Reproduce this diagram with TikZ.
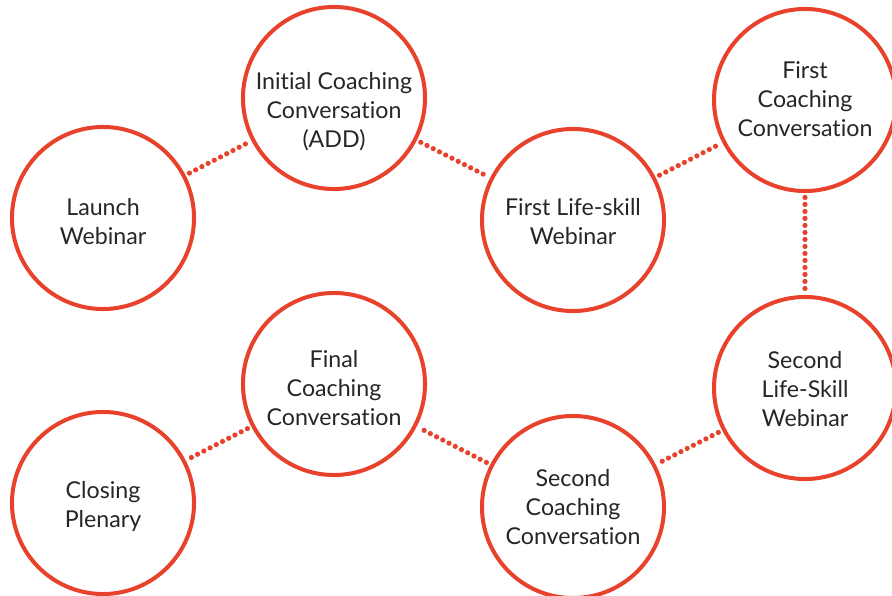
\documentclass[tikz,border=0pt]{standalone}
\usepackage{fontspec}
\setmainfont{Lato}[Ligatures={NoCommon,NoDiscretionary}]
\usepackage{tikz}
\usetikzlibrary{positioning}
\definecolor{ringred}{RGB}{232,65,44}
\definecolor{labelgray}{RGB}{38,38,38}
\tikzset{
  stage/.style   = {circle, draw=ringred, line width=0.1cm, fill=white,
                    minimum size=4.55cm, inner sep=0pt},
  caption/.style = {align=center, text=labelgray, inner sep=0pt,
                    font=\fontsize{16.5}{20.6}\selectfont},
  dots/.style    = {draw=ringred, line width=0.13cm, line cap=round,
                    dash pattern=on 0pt off 0.175cm,
                    shorten <=0.11cm, shorten >=0.11cm},
}

\begin{document}
\begin{tikzpicture}[x=0.025cm, y=-0.025cm]
  \useasboundingbox (0,0) rectangle (892,596);

  % top row
  \node[stage] (launch)  at (103,218) {};
  \node[stage] (initial) at (334,98)  {};
  \node[stage] (life1)   at (573,220) {};
  \node[stage] (coach1)  at (805,100) {};

  % bottom row
  \node[stage] (life2)   at (805,388) {};
  \node[stage] (coach2)  at (573,507) {};
  \node[stage] (final)   at (334,384) {};
  \node[stage] (closing) at (103,503) {};

  % texts, a little below the centres
  \node[caption] (launch-t)  at ([yshift=-0.08cm]launch)  {Launch\\Webinar};
  \node[caption] (initial-t) at ([yshift=-0.35cm]initial) {Initial Coaching\\Conversation\\(ADD)};
  \node[caption] (life1-t)   at ([yshift=-0.05cm]life1)   {First Life-skill\\Webinar};
  \node[caption] (coach1-t)  at ([yshift=0.01cm]coach1)   {First\\Coaching\\Conversation};
  \node[caption] (life2-t)   at ([yshift=-0.03cm]life2)   {Second\\Life-Skill\\Webinar};
  \node[caption] (coach2-t)  at ([yshift=0cm]coach2)      {Second\\Coaching\\Conversation};
  \node[caption] (final-t)   at ([yshift=-0.1cm]final)    {Final\\Coaching\\Conversation};
  \node[caption] (closing-t) at ([yshift=-0.08cm]closing) {Closing\\Plenary};

  \draw[dots] (launch) -- (initial);
  \draw[dots] (initial) -- (life1);
  \draw[dots] (life1) -- (coach1);
  \draw[dots] (coach1) -- (life2);
  \draw[dots] (life2) -- (coach2);
  \draw[dots] (coach2) -- (final);
  \draw[dots] (final) -- (closing);
\end{tikzpicture}
\end{document}
